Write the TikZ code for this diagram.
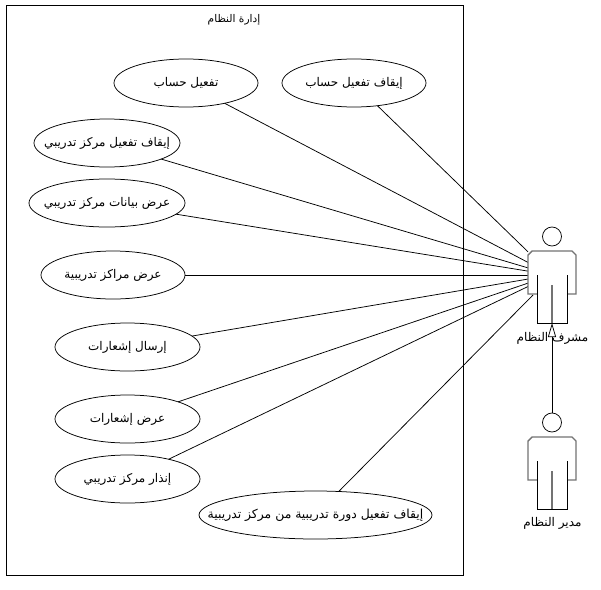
\documentclass[tikz,border=0pt]{standalone}
\usepackage{fontspec}
\usetikzlibrary{shapes.geometric,arrows.meta}
\newfontfamily\arabicfont[Script=Arabic]{DejaVu Sans}
\TeXXeTstate=1
\tikzset{
  x=1pt,y=-1pt,
  labelfont/.style={font=\arabicfont\fontsize{12}{14}\selectfont},
  usecase/.style={draw=black,ellipse,line width=.75pt,inner sep=0pt,outer sep=0pt,labelfont},
  actorbox/.style={rectangle,minimum width=48pt,minimum height=96pt,inner sep=0pt,outer sep=0pt},
  assoc/.style={draw=black,line width=.75pt},
  figline/.style={draw=black!55,line width=1.4pt},
  figthin/.style={draw=black,line width=.75pt},
  txt/.style={inner sep=0pt,outer sep=0pt,text=black,labelfont}
}
\newcommand{\actorfig}[2]{%
  \draw[figthin,fill=white] (#1,#2-48+9.5) circle (9.5pt);
  \draw[figline,fill=white] (#1-15,#2+19) -- (#1-24,#2+19) -- (#1-24,#2-20) -- (#1-20,#2-24) -- (#1+20,#2-24) -- (#1+24,#2-20) -- (#1+24,#2+19) -- (#1+15,#2+19);
  \draw[figthin] (#1-15,#2) -- (#1-15,#2+48) -- (#1+15,#2+48) -- (#1+15,#2);
  \draw[figline] (#1,#2+10) -- (#1,#2+48);
}
\begin{document}
\begin{tikzpicture}
\useasboundingbox (0,0) rectangle (601,589);
\fill[white] (0,0) rectangle (601,589);
\node[draw=black,line width=.75pt,rectangle,minimum width=457pt,minimum height=570pt,inner sep=0pt,outer sep=0pt] (sys) at (234.5,290) {};
\node[txt,font=\arabicfont\fontsize{10.6}{13}\selectfont] (title) at (234,20) {\beginR إدارة النظام\endR};
\node[actorbox] (sup) at (552,275) {};
\node[actorbox] (mgr) at (552,461) {};
\coordinate (supa) at (533,295);
\node[usecase,minimum width=144pt,minimum height=48pt] (u1) at (186,83) {\makebox[0pt]{\beginR تفعيل حساب\endR}};
\node[usecase,minimum width=144pt,minimum height=48pt] (u2) at (354,83) {\makebox[0pt]{\beginR إيقاف تفعيل حساب\endR}};
\node[usecase,minimum width=146pt,minimum height=48pt] (u3) at (107,143) {\makebox[0pt]{\beginR إيقاف تفعيل مركز تدريبي\endR}};
\node[usecase,minimum width=156pt,minimum height=48pt] (u4) at (107,203) {\makebox[0pt]{\beginR عرض بيانات مركز تدريبي\endR}};
\node[usecase,minimum width=144pt,minimum height=48pt] (u5) at (113,275) {\makebox[0pt]{\beginR عرض مراكز تدريبية\endR}};
\node[usecase,minimum width=145pt,minimum height=48pt] (u6) at (127.5,347) {\makebox[0pt]{\beginR إرسال إشعارات\endR}};
\node[usecase,minimum width=145pt,minimum height=48pt] (u7) at (127.5,419) {\makebox[0pt]{\beginR عرض إشعارات\endR}};
\node[usecase,minimum width=145pt,minimum height=48pt] (u8) at (127.5,479) {\makebox[0pt]{\beginR إنذار مركز تدريبي\endR}};
\node[usecase,minimum width=233pt,minimum height=48pt] (u9) at (315.5,515) {\makebox[0pt]{\fontsize{12.4}{14}\selectfont\beginR إيقاف تفعيل دورة تدريبية من مركز تدريبية\endR}};
\foreach \u in {u1,u2,u3,u4,u5,u6,u7,u8} \draw[assoc] (\u) -- (sup);
\draw[assoc] (u9) -- (supa);
\actorfig{552}{275}
\actorfig{552}{461}
\node[txt] (suplabel) at (552.5,338) {\beginR مشرف النظام\endR};
\node[txt] (mgrlabel) at (552.5,523) {\beginR مدير النظام\endR};
\draw[draw=black,line width=.75pt,-{Triangle[open,fill=white,length=14pt,width=8pt]}] (mgr.north) -- (sup.south);
\end{tikzpicture}
\end{document}
